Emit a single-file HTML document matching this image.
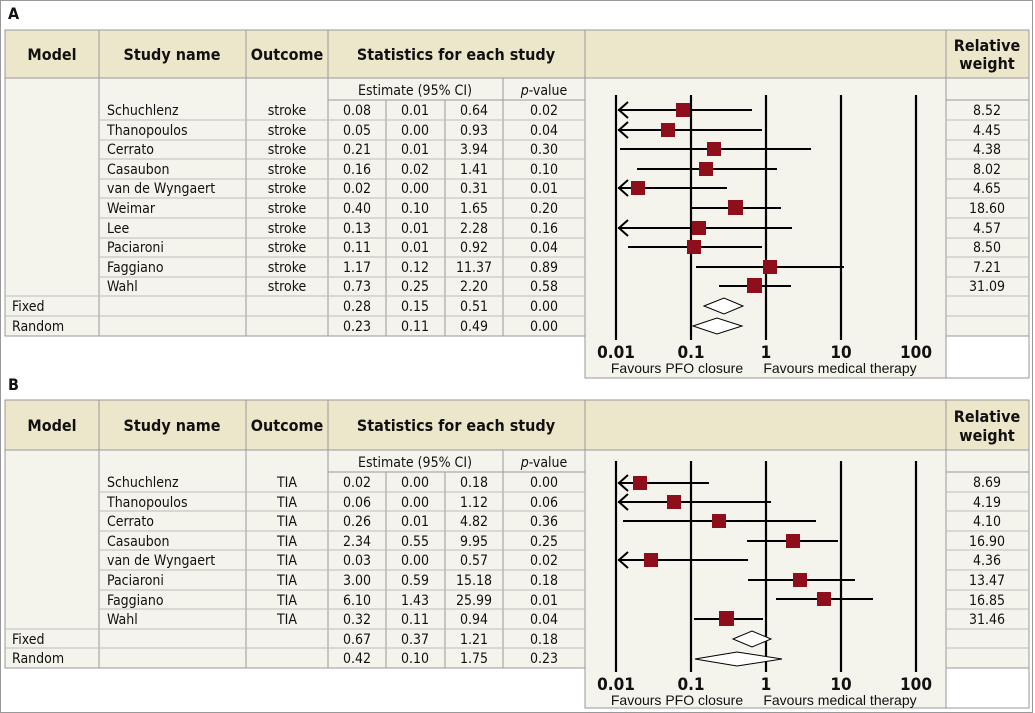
<!DOCTYPE html>
<html><head><meta charset="utf-8"><style>
html,body{margin:0;padding:0;background:#fff}
svg{display:block}
text{font-family:"Liberation Sans Narrow","DejaVu Sans Condensed","Liberation Sans",sans-serif;font-size:14px;fill:#111}
.h{font-weight:bold;font-size:16px}
.c{text-anchor:middle}
.t{font-weight:bold;font-size:17px;text-anchor:middle}
.f{font-family:"Liberation Sans",sans-serif;font-size:14px;text-anchor:middle}
</style></head><body>
<svg width="1035" height="713" xmlns="http://www.w3.org/2000/svg">
<rect x="0.5" y="0.5" width="1032" height="712" fill="#fff" stroke="#999"/>
<text x="8" y="19" class="h">A</text>
<text x="8" y="390" class="h">B</text>

<!-- ===== PANEL A ===== -->
<g>
<rect x="5" y="30" width="1024" height="48" fill="#ece7cb" stroke="#999"/>
<rect x="5" y="78" width="580" height="258" fill="#f5f4ec" stroke="#999"/>
<rect x="585" y="78" width="361" height="300" fill="#f5f4ec" stroke="#999"/>
<rect x="946" y="78" width="83" height="258" fill="#f5f4ec" stroke="#999"/>
<rect x="946" y="336" width="83" height="42" fill="#fff" stroke="#999"/>
<g stroke="#999" stroke-width="1">
<line x1="99" y1="30" x2="99" y2="336"/><line x1="246" y1="30" x2="246" y2="336"/><line x1="328" y1="30" x2="328" y2="336"/>
<line x1="585" y1="30" x2="585" y2="78"/><line x1="946" y1="30" x2="946" y2="78"/>
<line x1="386" y1="100" x2="386" y2="336"/><line x1="445" y1="100" x2="445" y2="336"/><line x1="503" y1="78" x2="503" y2="336"/>
<line x1="328" y1="100" x2="585" y2="100"/><line x1="946" y1="100" x2="1029" y2="100"/>
</g>
<g stroke="#bbb">
<line x1="99" y1="120" x2="585" y2="120"/><line x1="99" y1="140" x2="585" y2="140"/><line x1="99" y1="159" x2="585" y2="159"/><line x1="99" y1="179" x2="585" y2="179"/><line x1="99" y1="198" x2="585" y2="198"/><line x1="99" y1="218" x2="585" y2="218"/><line x1="99" y1="238" x2="585" y2="238"/><line x1="99" y1="257" x2="585" y2="257"/><line x1="99" y1="277" x2="585" y2="277"/>
<line x1="5" y1="296" x2="585" y2="296"/><line x1="5" y1="316" x2="585" y2="316"/>
<line x1="946" y1="120" x2="1029" y2="120"/><line x1="946" y1="140" x2="1029" y2="140"/><line x1="946" y1="159" x2="1029" y2="159"/><line x1="946" y1="179" x2="1029" y2="179"/><line x1="946" y1="198" x2="1029" y2="198"/><line x1="946" y1="218" x2="1029" y2="218"/><line x1="946" y1="238" x2="1029" y2="238"/><line x1="946" y1="257" x2="1029" y2="257"/><line x1="946" y1="277" x2="1029" y2="277"/><line x1="946" y1="296" x2="1029" y2="296"/><line x1="946" y1="316" x2="1029" y2="316"/>
</g>
<text x="52" y="60" class="h c">Model</text><text x="172" y="60" class="h c">Study name</text><text x="287" y="60" class="h c">Outcome</text><text x="456" y="60" class="h c">Statistics for each study</text>
<text x="987" y="51" class="h c">Relative</text><text x="987" y="69" class="h c">weight</text>
<text x="415" y="95" class="c">Estimate (95% CI)</text><text x="544" y="95" class="c"><tspan font-style="italic">p</tspan>-value</text>
<g>
<text x="107" y="115">Schuchlenz</text><text x="107" y="135">Thanopoulos</text><text x="107" y="154">Cerrato</text><text x="107" y="174">Casaubon</text><text x="107" y="193">van de Wyngaert</text><text x="107" y="213">Weimar</text><text x="107" y="233">Lee</text><text x="107" y="252">Paciaroni</text><text x="107" y="272">Faggiano</text><text x="107" y="291">Wahl</text>
<text x="12" y="311">Fixed</text><text x="12" y="331">Random</text>
</g>
<g class="c">
<text x="287" y="115" class="c">stroke</text><text x="287" y="135" class="c">stroke</text><text x="287" y="154" class="c">stroke</text><text x="287" y="174" class="c">stroke</text><text x="287" y="193" class="c">stroke</text><text x="287" y="213" class="c">stroke</text><text x="287" y="233" class="c">stroke</text><text x="287" y="252" class="c">stroke</text><text x="287" y="272" class="c">stroke</text><text x="287" y="291" class="c">stroke</text>
<text x="357" y="115" class="c">0.08</text><text x="415" y="115" class="c">0.01</text><text x="474" y="115" class="c">0.64</text><text x="544" y="115" class="c">0.02</text>
<text x="357" y="135" class="c">0.05</text><text x="415" y="135" class="c">0.00</text><text x="474" y="135" class="c">0.93</text><text x="544" y="135" class="c">0.04</text>
<text x="357" y="154" class="c">0.21</text><text x="415" y="154" class="c">0.01</text><text x="474" y="154" class="c">3.94</text><text x="544" y="154" class="c">0.30</text>
<text x="357" y="174" class="c">0.16</text><text x="415" y="174" class="c">0.02</text><text x="474" y="174" class="c">1.41</text><text x="544" y="174" class="c">0.10</text>
<text x="357" y="193" class="c">0.02</text><text x="415" y="193" class="c">0.00</text><text x="474" y="193" class="c">0.31</text><text x="544" y="193" class="c">0.01</text>
<text x="357" y="213" class="c">0.40</text><text x="415" y="213" class="c">0.10</text><text x="474" y="213" class="c">1.65</text><text x="544" y="213" class="c">0.20</text>
<text x="357" y="233" class="c">0.13</text><text x="415" y="233" class="c">0.01</text><text x="474" y="233" class="c">2.28</text><text x="544" y="233" class="c">0.16</text>
<text x="357" y="252" class="c">0.11</text><text x="415" y="252" class="c">0.01</text><text x="474" y="252" class="c">0.92</text><text x="544" y="252" class="c">0.04</text>
<text x="357" y="272" class="c">1.17</text><text x="415" y="272" class="c">0.12</text><text x="474" y="272" class="c">11.37</text><text x="544" y="272" class="c">0.89</text>
<text x="357" y="291" class="c">0.73</text><text x="415" y="291" class="c">0.25</text><text x="474" y="291" class="c">2.20</text><text x="544" y="291" class="c">0.58</text>
<text x="357" y="311" class="c">0.28</text><text x="415" y="311" class="c">0.15</text><text x="474" y="311" class="c">0.51</text><text x="544" y="311" class="c">0.00</text>
<text x="357" y="331" class="c">0.23</text><text x="415" y="331" class="c">0.11</text><text x="474" y="331" class="c">0.49</text><text x="544" y="331" class="c">0.00</text>
<text x="987" y="115" class="c">8.52</text><text x="987" y="135" class="c">4.45</text><text x="987" y="154" class="c">4.38</text><text x="987" y="174" class="c">8.02</text><text x="987" y="193" class="c">4.65</text><text x="987" y="213" class="c">18.60</text><text x="987" y="233" class="c">4.57</text><text x="987" y="252" class="c">8.50</text><text x="987" y="272" class="c">7.21</text><text x="987" y="291" class="c">31.09</text>
</g>
<g stroke="#000" stroke-width="2.2">
<line x1="616" y1="95" x2="616" y2="340"/><line x1="691" y1="95" x2="691" y2="340"/><line x1="766" y1="95" x2="766" y2="340"/><line x1="841" y1="95" x2="841" y2="340"/><line x1="916" y1="95" x2="916" y2="340"/>
</g>
<g stroke="#000" stroke-width="2" fill="none">
<line x1="618" y1="110" x2="752" y2="110"/><path d="M628 102 L619 110 L628 118"/>
<line x1="618" y1="130" x2="762" y2="130"/><path d="M628 122 L619 130 L628 138"/>
<line x1="620" y1="149" x2="811" y2="149"/>
<line x1="637" y1="169" x2="777" y2="169"/>
<line x1="618" y1="188" x2="727" y2="188"/><path d="M628 180 L619 188 L628 196"/>
<line x1="690" y1="208" x2="781" y2="208"/>
<line x1="618" y1="228" x2="792" y2="228"/><path d="M628 220 L619 228 L628 236"/>
<line x1="628" y1="247" x2="762" y2="247"/>
<line x1="696" y1="267" x2="844" y2="267"/>
<line x1="719" y1="286" x2="791" y2="286"/>
</g>
<g fill="#8f0e1c">
<rect x="676" y="103" width="14" height="14"/><rect x="661" y="123" width="14" height="14"/><rect x="707" y="142" width="14" height="14"/><rect x="699" y="162" width="14" height="14"/><rect x="631" y="181" width="14" height="14"/><rect x="728" y="200" width="15" height="15"/><rect x="692" y="221" width="14" height="14"/><rect x="687" y="240" width="14" height="14"/><rect x="763" y="260" width="14" height="14"/><rect x="747" y="278" width="15" height="15"/>
</g>
<g fill="#fff" stroke="#000" stroke-width="1">
<path d="M704 306 L724 298 L743 306 L724 314 Z"/><path d="M693 326 L717 318 L742 326 L717 334 Z"/>
</g>
<text x="616" y="358" class="t">0.01</text><text x="691" y="358" class="t">0.1</text><text x="766" y="358" class="t">1</text><text x="841" y="358" class="t">10</text><text x="916" y="358" class="t">100</text>
<text x="677" y="373" class="f">Favours PFO closure</text><text x="840" y="373" class="f">Favours medical therapy</text>
</g>

<!-- ===== PANEL B ===== -->
<g>
<rect x="5" y="400" width="1024" height="50" fill="#ece7cb" stroke="#999"/>
<rect x="5" y="450" width="580" height="218" fill="#f5f4ec" stroke="#999"/>
<rect x="585" y="450" width="361" height="258" fill="#f5f4ec" stroke="#999"/>
<rect x="946" y="450" width="83" height="218" fill="#f5f4ec" stroke="#999"/>
<rect x="946" y="668" width="83" height="40" fill="#fff" stroke="#999"/>
<g stroke="#999">
<line x1="99" y1="400" x2="99" y2="668"/><line x1="246" y1="400" x2="246" y2="668"/><line x1="328" y1="400" x2="328" y2="668"/>
<line x1="585" y1="400" x2="585" y2="450"/><line x1="946" y1="400" x2="946" y2="450"/>
<line x1="386" y1="472" x2="386" y2="668"/><line x1="445" y1="472" x2="445" y2="668"/><line x1="503" y1="450" x2="503" y2="668"/>
<line x1="328" y1="472" x2="585" y2="472"/><line x1="946" y1="472" x2="1029" y2="472"/>
</g>
<g stroke="#bbb">
<line x1="99" y1="492" x2="585" y2="492"/><line x1="99" y1="511" x2="585" y2="511"/><line x1="99" y1="531" x2="585" y2="531"/><line x1="99" y1="550" x2="585" y2="550"/><line x1="99" y1="570" x2="585" y2="570"/><line x1="99" y1="590" x2="585" y2="590"/><line x1="99" y1="609" x2="585" y2="609"/>
<line x1="5" y1="629" x2="585" y2="629"/><line x1="5" y1="648" x2="585" y2="648"/>
<line x1="946" y1="492" x2="1029" y2="492"/><line x1="946" y1="511" x2="1029" y2="511"/><line x1="946" y1="531" x2="1029" y2="531"/><line x1="946" y1="550" x2="1029" y2="550"/><line x1="946" y1="570" x2="1029" y2="570"/><line x1="946" y1="590" x2="1029" y2="590"/><line x1="946" y1="609" x2="1029" y2="609"/><line x1="946" y1="629" x2="1029" y2="629"/><line x1="946" y1="648" x2="1029" y2="648"/>
</g>
<text x="52" y="431" class="h c">Model</text><text x="172" y="431" class="h c">Study name</text><text x="287" y="431" class="h c">Outcome</text><text x="456" y="431" class="h c">Statistics for each study</text>
<text x="987" y="422" class="h c">Relative</text><text x="987" y="441" class="h c">weight</text>
<text x="415" y="467" class="c">Estimate (95% CI)</text><text x="544" y="467" class="c"><tspan font-style="italic">p</tspan>-value</text>
<text x="107" y="487">Schuchlenz</text><text x="107" y="507">Thanopoulos</text><text x="107" y="526">Cerrato</text><text x="107" y="546">Casaubon</text><text x="107" y="565">van de Wyngaert</text><text x="107" y="585">Paciaroni</text><text x="107" y="605">Faggiano</text><text x="107" y="624">Wahl</text>
<text x="12" y="644">Fixed</text><text x="12" y="663">Random</text>
<text x="287" y="487" class="c">TIA</text><text x="287" y="507" class="c">TIA</text><text x="287" y="526" class="c">TIA</text><text x="287" y="546" class="c">TIA</text><text x="287" y="565" class="c">TIA</text><text x="287" y="585" class="c">TIA</text><text x="287" y="605" class="c">TIA</text><text x="287" y="624" class="c">TIA</text>
<text x="357" y="487" class="c">0.02</text><text x="415" y="487" class="c">0.00</text><text x="474" y="487" class="c">0.18</text><text x="544" y="487" class="c">0.00</text>
<text x="357" y="507" class="c">0.06</text><text x="415" y="507" class="c">0.00</text><text x="474" y="507" class="c">1.12</text><text x="544" y="507" class="c">0.06</text>
<text x="357" y="526" class="c">0.26</text><text x="415" y="526" class="c">0.01</text><text x="474" y="526" class="c">4.82</text><text x="544" y="526" class="c">0.36</text>
<text x="357" y="546" class="c">2.34</text><text x="415" y="546" class="c">0.55</text><text x="474" y="546" class="c">9.95</text><text x="544" y="546" class="c">0.25</text>
<text x="357" y="565" class="c">0.03</text><text x="415" y="565" class="c">0.00</text><text x="474" y="565" class="c">0.57</text><text x="544" y="565" class="c">0.02</text>
<text x="357" y="585" class="c">3.00</text><text x="415" y="585" class="c">0.59</text><text x="474" y="585" class="c">15.18</text><text x="544" y="585" class="c">0.18</text>
<text x="357" y="605" class="c">6.10</text><text x="415" y="605" class="c">1.43</text><text x="474" y="605" class="c">25.99</text><text x="544" y="605" class="c">0.01</text>
<text x="357" y="624" class="c">0.32</text><text x="415" y="624" class="c">0.11</text><text x="474" y="624" class="c">0.94</text><text x="544" y="624" class="c">0.04</text>
<text x="357" y="644" class="c">0.67</text><text x="415" y="644" class="c">0.37</text><text x="474" y="644" class="c">1.21</text><text x="544" y="644" class="c">0.18</text>
<text x="357" y="663" class="c">0.42</text><text x="415" y="663" class="c">0.10</text><text x="474" y="663" class="c">1.75</text><text x="544" y="663" class="c">0.23</text>
<text x="987" y="487" class="c">8.69</text><text x="987" y="507" class="c">4.19</text><text x="987" y="526" class="c">4.10</text><text x="987" y="546" class="c">16.90</text><text x="987" y="565" class="c">4.36</text><text x="987" y="585" class="c">13.47</text><text x="987" y="605" class="c">16.85</text><text x="987" y="624" class="c">31.46</text>
<g stroke="#000" stroke-width="2.2">
<line x1="616" y1="461" x2="616" y2="672"/><line x1="691" y1="461" x2="691" y2="672"/><line x1="766" y1="461" x2="766" y2="672"/><line x1="841" y1="461" x2="841" y2="672"/><line x1="916" y1="461" x2="916" y2="672"/>
</g>
<g stroke="#000" stroke-width="2" fill="none">
<line x1="618" y1="483" x2="709" y2="483"/><path d="M628 475 L619 483 L628 491"/>
<line x1="618" y1="502" x2="771" y2="502"/><path d="M628 494 L619 502 L628 510"/>
<line x1="623" y1="521" x2="816" y2="521"/>
<line x1="747" y1="541" x2="838" y2="541"/>
<line x1="618" y1="560" x2="748" y2="560"/><path d="M628 552 L619 560 L628 568"/>
<line x1="748" y1="580" x2="855" y2="580"/>
<line x1="776" y1="599" x2="873" y2="599"/>
<line x1="694" y1="619" x2="763" y2="619"/>
</g>
<g fill="#8f0e1c">
<rect x="633" y="476" width="14" height="14"/><rect x="667" y="495" width="14" height="14"/><rect x="712" y="514" width="14" height="14"/><rect x="786" y="534" width="14" height="14"/><rect x="644" y="553" width="14" height="14"/><rect x="793" y="573" width="14" height="14"/><rect x="817" y="592" width="14" height="14"/><rect x="719" y="611" width="15" height="15"/>
</g>
<g fill="#fff" stroke="#000" stroke-width="1">
<path d="M733 639 L752 631 L771 639 L752 647 Z"/><path d="M695 659 L737 652 L782 659 L737 666 Z"/>
</g>
<text x="616" y="690" class="t">0.01</text><text x="691" y="690" class="t">0.1</text><text x="766" y="690" class="t">1</text><text x="841" y="690" class="t">10</text><text x="916" y="690" class="t">100</text>
<text x="677" y="705" class="f">Favours PFO closure</text><text x="840" y="705" class="f">Favours medical therapy</text>
</g>
</svg>
</body></html>
